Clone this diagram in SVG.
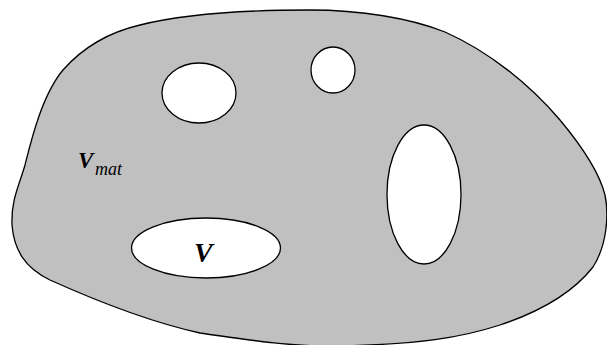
<svg xmlns="http://www.w3.org/2000/svg" width="607" height="345" viewBox="0 0 607 345">
<style>
.sh{stroke:#000;stroke-width:1.3}
.hole{fill:#fff}
text{font-family:'Liberation Serif','Times New Roman',serif;font-style:italic;fill:#000}
</style>
<rect width="607" height="345" fill="#fff"/>
<g id="matrix">
<path class="sh" fill="#c0c0c0" d="M310,10 C360,10 410,18 445,32 C490,52 530,85 560,120 C585,150 600,175 605,195 C609,215 607,245 593,267 C575,290 545,310 500,325 C460,338 420,344 340,346 C290,347 250,340 200,333 C150,322 90,298 50,280 C25,268 14,250 12,225 C11,200 19,186 25,165 C31,141 42,95 63,70 C85,45 110,32 140,25 C180,15 240,10 310,10 Z"/>
<text x="78" y="168" font-size="23" font-weight="bold">V</text>
<text x="95" y="175" font-size="18">mat</text>
</g>
<g id="hole1"><ellipse class="sh hole" cx="199" cy="93" rx="37" ry="30"/></g>
<g id="hole2"><ellipse class="sh hole" cx="333" cy="70" rx="22" ry="23"/></g>
<g id="hole3"><ellipse class="sh hole" cx="424" cy="194.5" rx="37" ry="69.5"/></g>
<g id="holeV">
<ellipse class="sh hole" cx="206" cy="248" rx="74.5" ry="30"/>
<text x="194" y="262" font-size="28" font-weight="bold">V</text>
</g>
</svg>
